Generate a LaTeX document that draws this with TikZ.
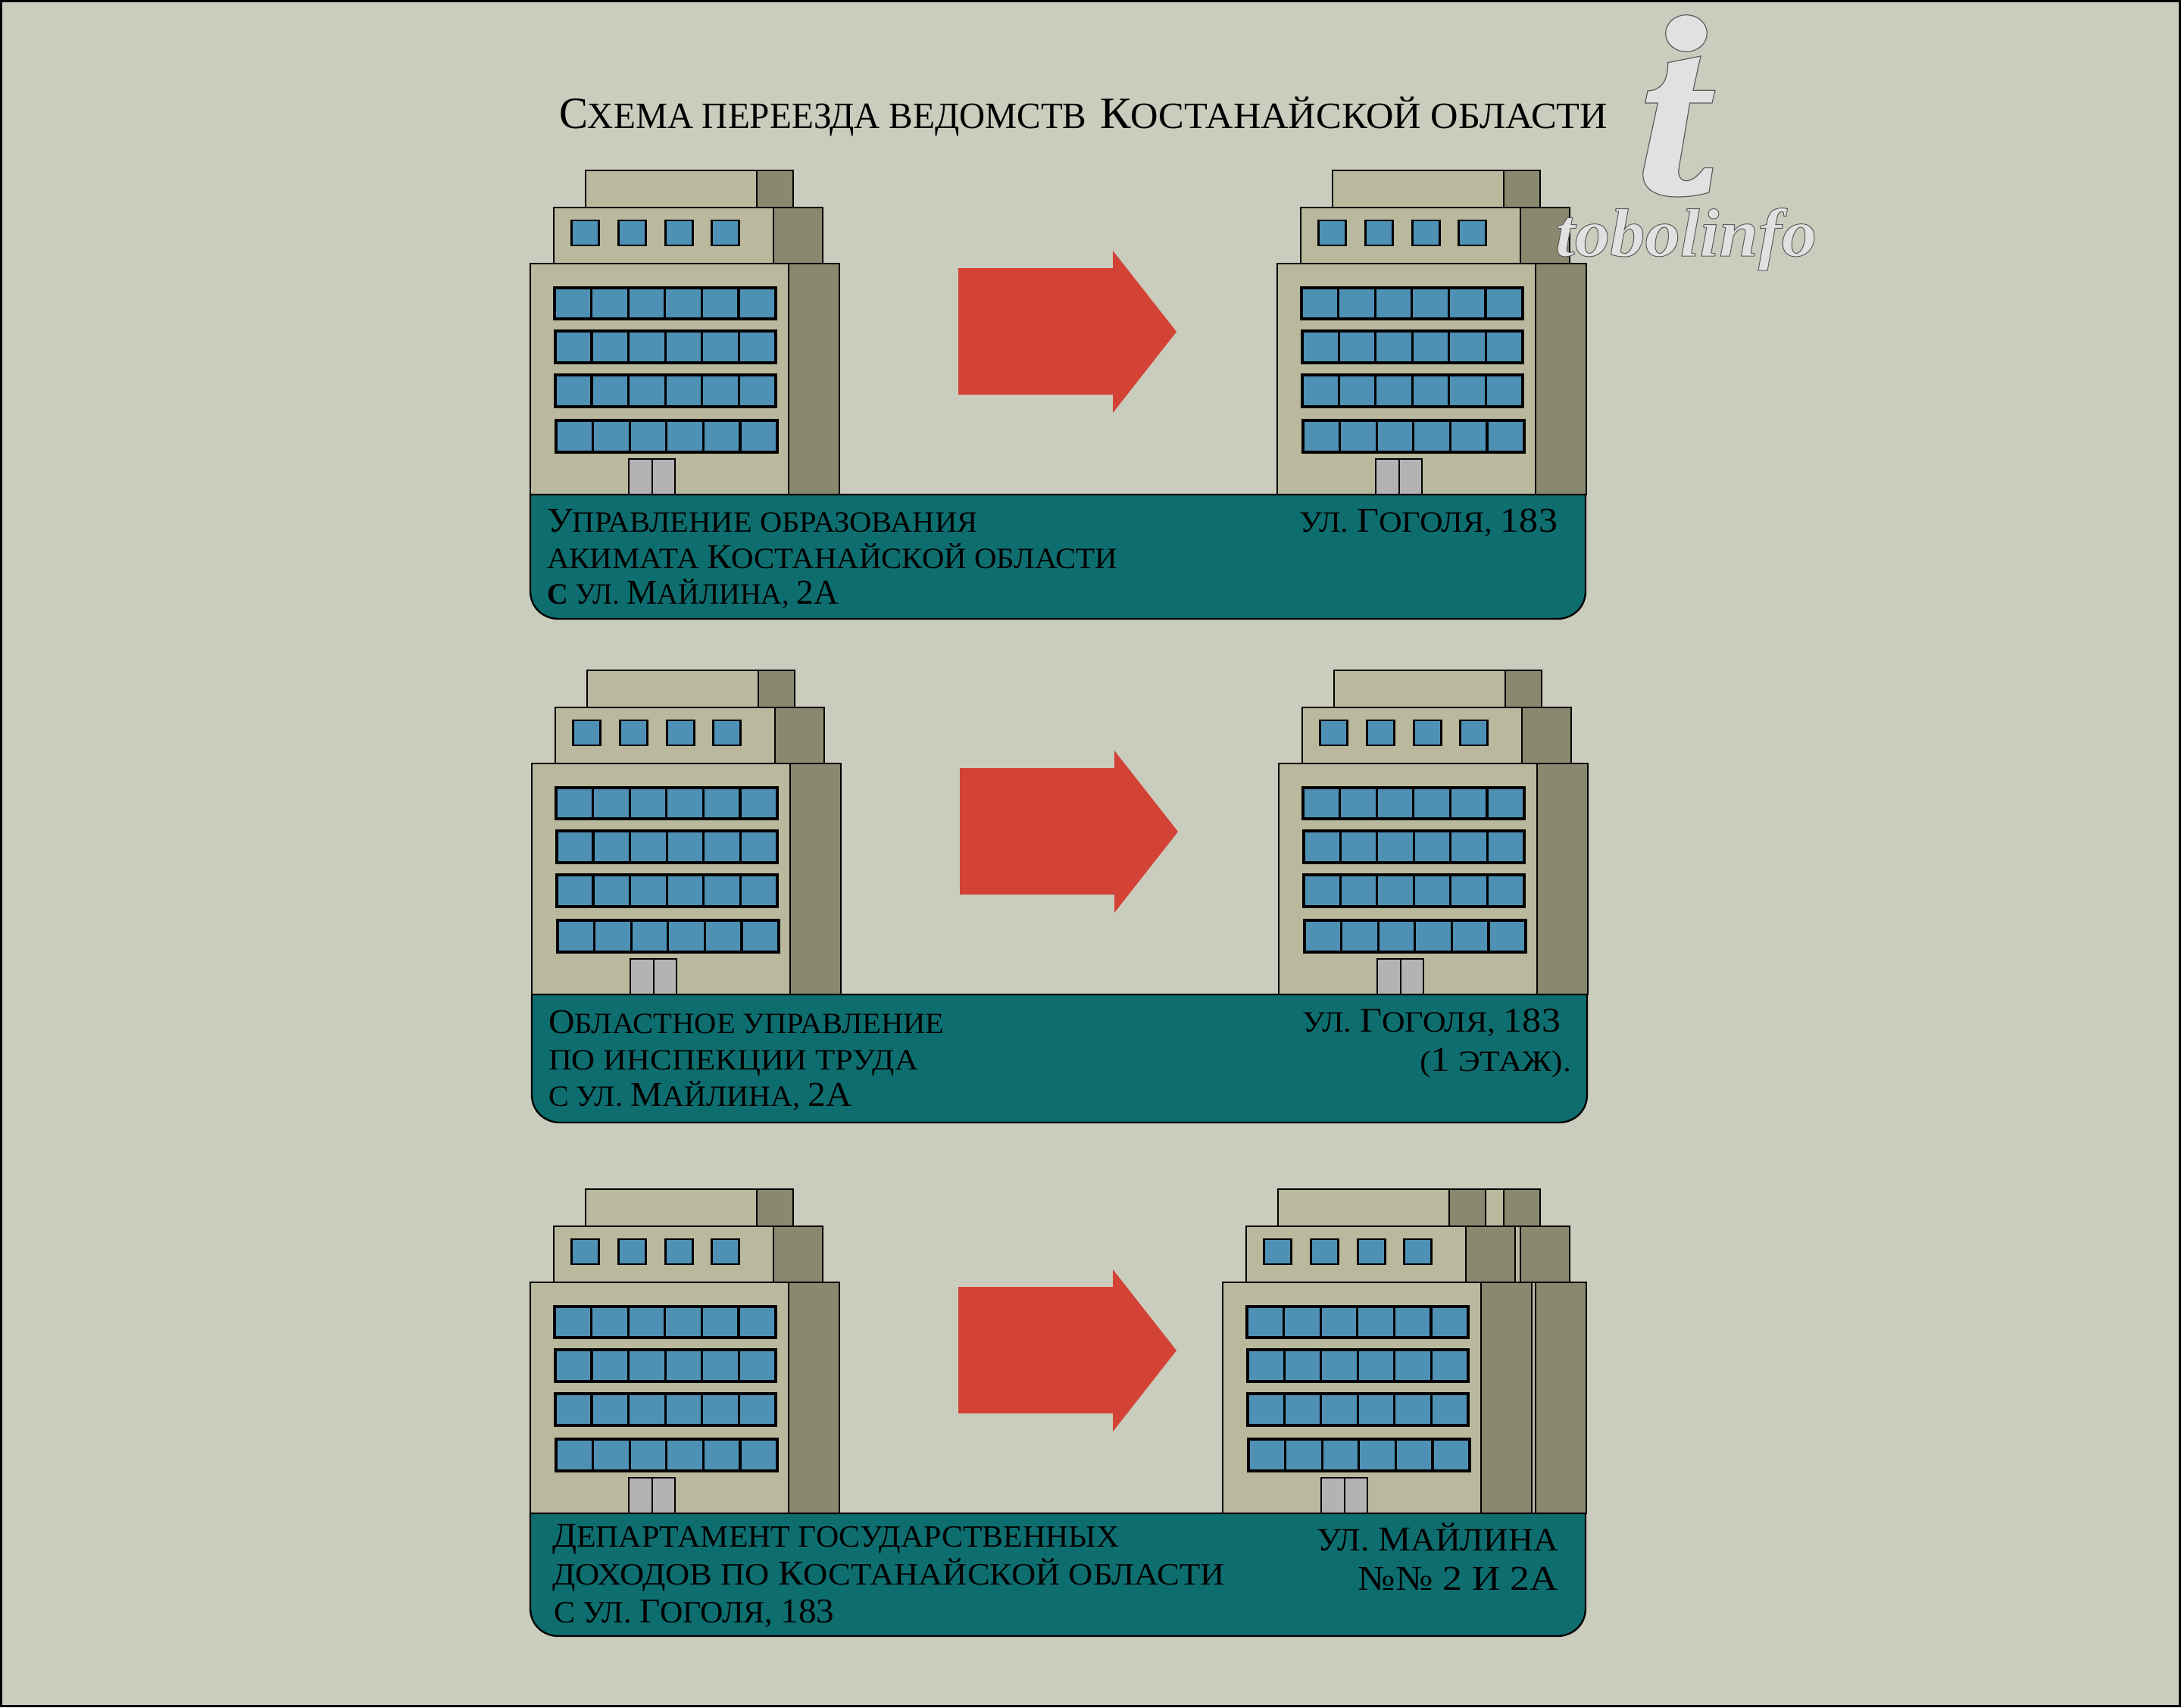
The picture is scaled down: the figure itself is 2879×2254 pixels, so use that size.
\documentclass[tikz,border=0pt]{standalone}
\usepackage{graphicx}
\usepackage{fontspec}
\setmainfont{Liberation Serif}
\definecolor{pagebg}{HTML}{CACCBD}
\definecolor{wallc}{HTML}{BAB99E}
\definecolor{sidec}{HTML}{8A886E}
\definecolor{glassc}{HTML}{4F90B5}
\definecolor{doorc}{HTML}{B3B3B3}
\definecolor{bannerc}{HTML}{0E6E6F}
\definecolor{arrowc}{HTML}{D34335}
\definecolor{logoc}{HTML}{E1E1E1}
\definecolor{logoline}{HTML}{5C5C5C}
\tikzset{
  x=1pt,y=-1pt,
  wall/.style={draw=black,line width=2pt,fill=wallc},
  sidewall/.style={draw=black,line width=2pt,fill=sidec},
  glass/.style={draw=black,line width=2.4pt,fill=glassc},
  doorleaf/.style={draw=black,line width=2pt,fill=doorc},
  bannerbox/.style={draw=black,line width=2.4pt,fill=bannerc},
  movearrow/.style={fill=arrowc,draw=none},
  logomark/.style={draw=logoline,line width=1.2pt,fill=logoc},
  txtw/.style={anchor=base west,inner sep=0pt,outer sep=0pt},
  txte/.style={anchor=base east,inner sep=0pt,outer sep=0pt},
}
% Small-capital text setting at several sizes
\newcommand{\bigsz}{\fontsize{46}{46}\selectfont}
\newcommand{\smsz}{\fontsize{39}{39}\selectfont}
\newcommand{\midsz}{\fontsize{41}{41}\selectfont}
\newcommand{\ttlbig}{\fontsize{59}{59}\selectfont}
\newcommand{\ttlsm}{\fontsize{49}{49}\selectfont}
\newcommand{\B}[1]{{\bigsz #1}}
\newcommand{\Sm}[1]{{\smsz #1}}
\newcommand{\Md}[1]{{\midsz #1}}
\newcommand{\Sx}[2]{\scalebox{#1}[1]{#2}}
% Ribbon of six glazed panes
\newcommand{\glazing}[4]{%
  \draw[draw=black,line width=4pt,fill=glassc] (#1,#3) rectangle (#2,#4);
  \foreach \k in {1,...,5}{
    \draw[black,line width=3.2pt] ({#1+(#2-#1)*\k/6},#3) -- ({#1+(#2-#1)*\k/6},#4);
  }%
}
% One office block with its penthouse, upper storey, glazing and entrance
\newcommand{\officeblock}[2]{%
  \begin{scope}[shift={(#1,#2)}]
    \draw[wall] (772,225) rectangle (998,274);
    \draw[sidewall] (998,225) rectangle (1046.5,274);
    \draw[wall] (730,274) rectangle (1020.5,348);
    \draw[sidewall] (1020.5,274) rectangle (1085.5,348);
    \draw[wall] (699,348) rectangle (1040.5,653);
    \draw[sidewall] (1040.5,348) rectangle (1107.5,653);
    \foreach \wx in {754,816,878,939}{
      \draw[glass] (\wx,291) rectangle ++(36,33);
    }
    \glazing{731.5}{1023}{380}{421}
    \glazing{732}{1023.5}{437}{479}
    \glazing{732}{1023.5}{495}{537}
    \glazing{733.5}{1025}{554.5}{596.5}
    \draw[doorleaf] (829,606) rectangle (860,653);
    \draw[doorleaf] (860,606) rectangle (890,653);
  \end{scope}%
}
% Teal caption band with rounded lower corners
\newcommand{\captionband}[4]{%
  \draw[bannerbox] (#1,#3) -- (#2,#3) -- (#2,#4-37)
    .. controls (#2,#4-14) and (#2-18,#4) .. (#2-37,#4)
    -- (#1+37,#4)
    .. controls (#1+18,#4) and (#1,#4-14) .. (#1,#4-37) -- cycle;
}
% Red block arrow pointing to the new address
\newcommand{\movearrowat}[2]{%
  \fill[movearrow,shift={(#1,#2)}] (1265,354) -- (1469,354) -- (1469,331) -- (1553,438)
    -- (1469,545) -- (1469,521) -- (1265,521) -- cycle;
}
\begin{document}
\begin{tikzpicture}
\useasboundingbox (0,0) rectangle (2879,2254);
\draw[fill=pagebg,draw=black,line width=3pt] (1.5,1.5) rectangle (2877.5,2252.5);

% Heading
\node[txtw] (heading) at (738,169) {\Sx{0.965}{{\ttlbig С}{\ttlsm ХЕМА ПЕРЕЕЗДА ВЕДОМСТВ}}};
\node[txtw] (headingb) at (1452,169) {\Sx{1.03}{{\ttlbig К}{\ttlsm ОСТАНАЙСКОЙ ОБЛАСТИ}}};

% First move
\officeblock{0.5}{0}
\officeblock{986.5}{0}
\captionband{700}{2093}{653}{817}
\movearrowat{0}{0}
\node[txtw] (r1a) at (722,702) {\Sx{1.04}{\B{У}\Sm{ПРАВЛЕНИЕ ОБРАЗОВАНИЯ}}};
\node[txtw] (r1b) at (722,750) {\Sx{1.048}{\Sm{АКИМАТА }\B{К}\Sm{ОСТАНАЙСКОЙ ОБЛАСТИ}}};
\node[txtw] (r1c) at (722,797) {\Sx{0.985}{\Sm{\textbf{С} УЛ. }\B{М}\Sm{АЙЛИНА, }\B{2А}}};
\node[txte] (r1d) at (2056,702) {\Sx{1.088}{\Sm{УЛ. }\B{Г}\Sm{ОГОЛЯ, }\B{183}}};

% Second move
\officeblock{2.5}{660}
\officeblock{988.5}{660}
\captionband{702}{2095}{1313}{1482}
\movearrowat{2}{660}
\node[txtw] (r2a) at (724,1364) {\Sx{1.04}{\B{О}\Sm{БЛАСТНОЕ УПРАВЛЕНИЕ}}};
\node[txtw] (r2b) at (724,1412) {\Sx{1.10}{\Sm{ПО ИНСПЕКЦИИ ТРУДА}}};
\node[txtw] (r2c) at (724,1460) {\Sx{1.03}{\Sm{С УЛ. }\B{М}\Sm{АЙЛИНА, }\B{2А}}};
\node[txte] (r2d) at (2060,1362) {\Sx{1.088}{\Sm{УЛ. }\B{Г}\Sm{ОГОЛЯ, }\B{183}}};
\node[txte] (r2e) at (2074,1414) {\Sx{1.115}{\Sm{(}\B{1}\Sm{ ЭТАЖ).}}};

% Third move: the destination is a pair of adjoining blocks
\officeblock{0.5}{1345}
\officeblock{986.5}{1345}
\officeblock{914.5}{1345}
\captionband{700}{2093}{1998}{2160}
\movearrowat{0}{1345}
\node[txtw] (r3a) at (729,2042) {\Sx{1.022}{\B{Д}\Md{ЕПАРТАМЕНТ ГОСУДАРСТВЕННЫХ}}};
\node[txtw] (r3b) at (729,2092) {\Sx{1.088}{\Md{ДОХОДОВ ПО }\B{К}\Md{ОСТАНАЙСКОЙ ОБЛАСТИ}}};
\node[txtw] (r3c) at (731,2142) {\Sx{1.025}{\Md{С УЛ. }\B{Г}\Md{ОГОЛЯ, }\B{183}}};
\node[txte] (r3d) at (2057,2047) {\Sx{1.055}{{\fontsize{43}{43}\selectfont УЛ. }\B{М}{\fontsize{43}{43}\selectfont АЙЛИНА}}};
\node[txte] (r3e) at (2057,2099) {\Sx{1.125}{\B{№№ 2 И 2А}}};

% Site mark: letter i with the site name under it
\begin{scope}[shift={(1980,0)},x=0.3333pt,y=-0.3333pt]
  \draw[logomark] (738,132) ellipse [x radius=82,y radius=73];
  \draw[logomark] (665,248) -- (795,222) -- (765,358) -- (852,358) -- (840,408) -- (752,408)
    -- (708,670) .. controls (703,705) and (725,718) .. (738,716)
    .. controls (765,716) and (790,690) .. (808,665)
    -- (843,665) -- (828,762)
    .. controls (790,775) and (740,780) .. (700,780)
    .. controls (620,780) and (560,750) .. (567,680)
    -- (625,408) -- (575,408) -- (585,360)
    .. controls (640,358) and (665,320) .. (665,248) -- cycle;
\end{scope}
\node[txtw,text=logoc] (sitename) at (2053,338) {\Sx{1.03}{\special{pdf:code 0.36 0.36 0.36 RG 2 Tr 1 w}\fontsize{90}{90}\selectfont\bfseries\itshape tobolinfo\special{pdf:code 0 Tr}}};
\end{tikzpicture}
\end{document}
